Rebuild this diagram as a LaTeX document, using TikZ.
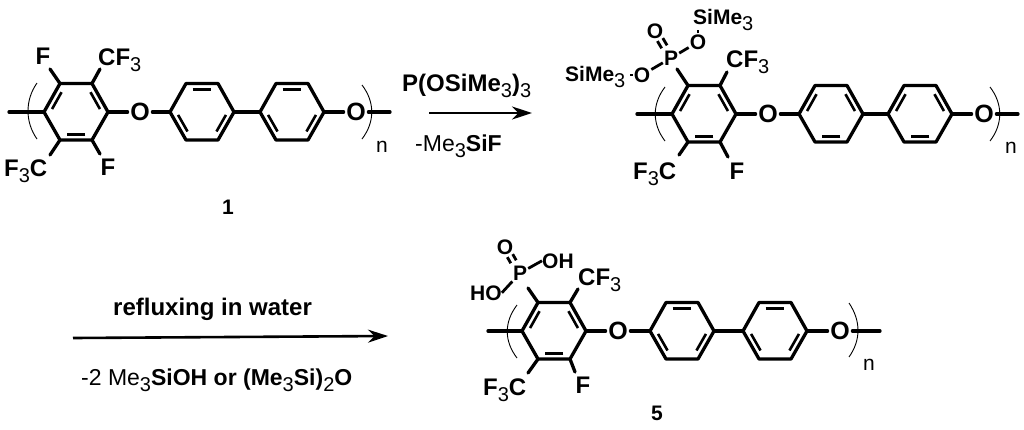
\documentclass[tikz,border=0pt]{standalone}
\usepackage{fontspec}
\setmainfont{Liberation Sans}
\usetikzlibrary{calc,arrows.meta}
\newcommand{\fsz}[1]{\fontsize{#1}{#1}\selectfont}
\newcommand{\dnum}[1]{\raisebox{-6pt}{\fsz{20}\mdseries #1}}
\newcommand{\hexring}[3]{% name, left x, y
  \coordinate (#1v1) at (#2,#3);
  \coordinate (#1v2) at (#2+16,#3-28.5);
  \coordinate (#1v3) at (#2+48,#3-28.5);
  \coordinate (#1v4) at (#2+64,#3);
  \coordinate (#1v5) at (#2+48,#3+28);
  \coordinate (#1v6) at (#2+16,#3+28);
  \coordinate (#1c) at (#2+32,#3);
  \draw[bond] (#1v1)--(#1v2)--(#1v3)--(#1v4)--(#1v5)--(#1v6)--cycle;
}
\newcommand{\dbl}[3]{% ring, vertex, vertex
  \draw[inner] ($($(#1v#2)!.13!(#1v#3)$)!.2!(#1c)$) -- ($($(#1v#3)!.13!(#1v#2)$)!.2!(#1c)$);
}
\newcommand{\chain}[9]{% prefix, y, Ax, O1x, Bx, Cx, O2x, endx, startx
  \hexring{#1a}{#3}{#2}
  \hexring{#1b}{#5}{#2}
  \hexring{#1c}{#6}{#2}
  \node[oat] (#1o1) at (#4,#2) {O};
  \node[oat] (#1o2) at (#7,#2) {O};
  \coordinate (#1s) at (#9,#2);
  \coordinate (#1e) at (#8,#2);
  \draw[bond] (#1s) -- (#1av1);
  \draw[bond] (#1av4) -- (#1o1);
  \draw[bond] (#1o1) -- (#1bv1);
  \draw[bond] (#1bv4) -- (#1cv1);
  \draw[bond] (#1cv4) -- (#1o2);
  \draw[bond] (#1o2) -- (#1e);
  \dbl{#1a}{1}{2}\dbl{#1a}{3}{4}\dbl{#1a}{5}{6}
}
\tikzset{
  bond/.style={line width=3.3pt,line join=round,line cap=round},
  thinbond/.style={line width=2.8pt,line cap=butt},
  inner/.style={line width=2.6pt,line cap=butt},
  paren/.style={line width=0.9pt},
  rxn/.style={line width=2.6pt,-{Stealth[length=20pt,width=13pt]}},
  oat/.style={font=\fsz{25}\bfseries,inner sep=2.5pt},
  lab/.style={font=\fsz{24}\bfseries,inner sep=0pt,anchor=base west},
  atm/.style={font=\fsz{24}\bfseries,inner sep=0pt},
  small/.style={font=\fsz{21}\bfseries,inner sep=1pt},
  smalllab/.style={font=\fsz{21}\bfseries,inner sep=0pt,anchor=base west},
  plain/.style={font=\fsz{23},inner sep=0pt,anchor=base west},
  idx/.style={font=\fsz{21},inner sep=0pt},
  cmpd/.style={font=\fsz{21}\bfseries,inner sep=0pt},
}
\begin{document}
\begin{tikzpicture}[x=1pt,y=-1pt]
\useasboundingbox (0,0) rectangle (1024,429);
\fill[white] (0,0) rectangle (1024,429);

% ---- polymer 1
\chain{m}{112}{44}{140}{170}{260}{356}{390}{9}
\dbl{mb}{2}{3}\dbl{mb}{1}{6}\dbl{mb}{4}{5}
\dbl{mc}{2}{3}\dbl{mc}{1}{6}\dbl{mc}{4}{5}
\node[atm] (mf1) at (43,56) {F};
\node[lab] (mcf) at (98,65) {CF\dnum{3}};
\node[lab] (mfc) at (4,176) {F\dnum{3}C};
\node[atm] (mf2) at (108,167) {F};
\coordinate (mb1) at (50,69);
\coordinate (mb2) at (100,69);
\coordinate (mb3) at (50,155);
\coordinate (mb4) at (100,154);
\draw[bond] (mav2) -- (mb1);
\draw[bond] (mav3) -- (mb2);
\draw[bond] (mav6) -- (mb3);
\draw[bond] (mav5) -- (mb4);
\coordinate (mpl1) at (37,83);\coordinate (mpl2) at (37,139);
\coordinate (mpr1) at (362,85);\coordinate (mpr2) at (362,139);
\draw[paren] (mpl1) .. controls (25,100) and (25,122) .. (mpl2);
\draw[paren] (mpr1) .. controls (375,102) and (375,122) .. (mpr2);
\node[idx] (mn) at (382,147) {n};
\node[cmpd] (mone) at (228,207) {1};

% ---- reaction 1
\node[lab] (t1) at (402,91) {P(OSiMe\dnum{3})\dnum{3}};
\coordinate (a1s) at (429,113);
\coordinate (a1e) at (532,113);
\draw[rxn] (a1s) -- (a1e);
\node[plain] (t2) at (415,151) {-Me\dnum{3}\textbf{SiF}};

% ---- polymer 2
\chain{q}{114}{672}{768}{799}{888}{984}{1018}{637}
\dbl{qb}{1}{2}\dbl{qb}{3}{4}\dbl{qb}{5}{6}
\dbl{qc}{1}{2}\dbl{qc}{3}{4}\dbl{qc}{5}{6}
\node[small] (qp) at (671,58) {P};
\node[small] (qoe) at (655,31) {O};
\node[small] (qor) at (698,42) {O};
\node[small] (qol) at (642,75) {O};
\node[smalllab] (qsi1) at (693,24) {SiMe\dnum{3}};
\node[smalllab] (qsi2) at (565,81) {SiMe\dnum{3}};
\node[lab] (qcf) at (726,67) {CF\dnum{3}};
\node[lab] (qfc) at (633,179) {F\dnum{3}C};
\node[atm] (qf) at (737,171) {F};
\coordinate (qb1) at (677,69);
\coordinate (qb2) at (727,72);
\coordinate (qb3) at (679,155);
\coordinate (qb4) at (728,157);
\draw[bond] (qav2) -- (qb1);
\draw[bond] (qav3) -- (qb2);
\draw[bond] (qav6) -- (qb3);
\draw[bond] (qav5) -- (qb4);
\draw[thinbond] (qp) -- (qor);
\draw[thinbond] (qp) -- (qol);
\draw[thinbond,shorten <=0pt] ([shift={(2.7,-1.5)}]qp.center) ++(0,0) -- ([shift={(2.7,-1.5)}]qoe.center) [shorten <=13pt,shorten >=10pt];
\draw[thinbond,shorten <=13pt,shorten >=10pt] ([shift={(-2.7,1.5)}]qp.center) -- ([shift={(-2.7,1.5)}]qoe.center);
\draw[line width=1.5pt] (qsi1.south) ++(0,0) (qor) -- (qsi1.south -| qor) ;
\coordinate (qd1) at (630,75);
\draw[line width=1.5pt,shorten >=0pt] (qd1) -- (qol);
\coordinate (qpl1) at (665,87);\coordinate (qpl2) at (665,141);
\coordinate (qpr1) at (990,87);\coordinate (qpr2) at (990,141);
\draw[paren] (qpl1) .. controls (652,104) and (652,124) .. (qpl2);
\draw[paren] (qpr1) .. controls (1003,104) and (1003,124) .. (qpr2);
\node[idx] (qn) at (1011,148) {n};

% ---- reaction 2
\node[lab] (t3) at (113,315) {reflux\-ing in water};
\coordinate (a2s) at (73,338);
\coordinate (a2e) at (388,336);
\draw[rxn] (a2s) -- (a2e);
\node[plain] (t4) at (81,385) {-2 Me\dnum{3}\textbf{SiOH or (Me}\dnum{3}\textbf{Si)}\dnum{2}\textbf{O}};

% ---- polymer 3
\chain{r}{331}{522}{618}{650}{743}{840}{880}{488}
\dbl{rb}{2}{3}\dbl{rb}{1}{6}\dbl{rb}{4}{5}
\dbl{rc}{2}{3}\dbl{rc}{1}{6}\dbl{rc}{4}{5}
\node[small] (rp) at (520,273) {P};
\node[small] (roe) at (505,247) {O};
\node[smalllab] (roh) at (542,268) {OH};
\node[smalllab] (rho) at (470,300) {HO};
\node[lab] (rcf) at (578,285) {CF\dnum{3}};
\node[lab] (rfc) at (483,395) {F\dnum{3}C};
\node[atm] (rf) at (583,385) {F};
\coordinate (rb1) at (528,288);
\coordinate (rb2) at (578,289);
\coordinate (rb3) at (528,373);
\coordinate (rb4) at (575,372);
\draw[bond] (rav2) -- (rb1);
\draw[bond] (rav3) -- (rb2);
\draw[bond] (rav6) -- (rb3);
\draw[bond] (rav5) -- (rb4);
\draw[thinbond] (rp) -- (roh.west);
\draw[thinbond] (rp) -- (rho.east);
\draw[thinbond,shorten <=13pt,shorten >=10pt] ([shift={(2.7,-1.5)}]rp.center) -- ([shift={(2.7,-1.5)}]roe.center);
\draw[thinbond,shorten <=13pt,shorten >=10pt] ([shift={(-2.7,1.5)}]rp.center) -- ([shift={(-2.7,1.5)}]roe.center);
\coordinate (rpl1) at (517,305);\coordinate (rpl2) at (517,358);
\coordinate (rpr1) at (849,303);\coordinate (rpr2) at (849,357);
\draw[paren] (rpl1) .. controls (504,322) and (504,341) .. (rpl2);
\draw[paren] (rpr1) .. controls (861,321) and (861,340) .. (rpr2);
\node[idx] (rn) at (869,365) {n};
\node[cmpd] (rfive) at (657,413) {5};
\end{tikzpicture}
\end{document}
